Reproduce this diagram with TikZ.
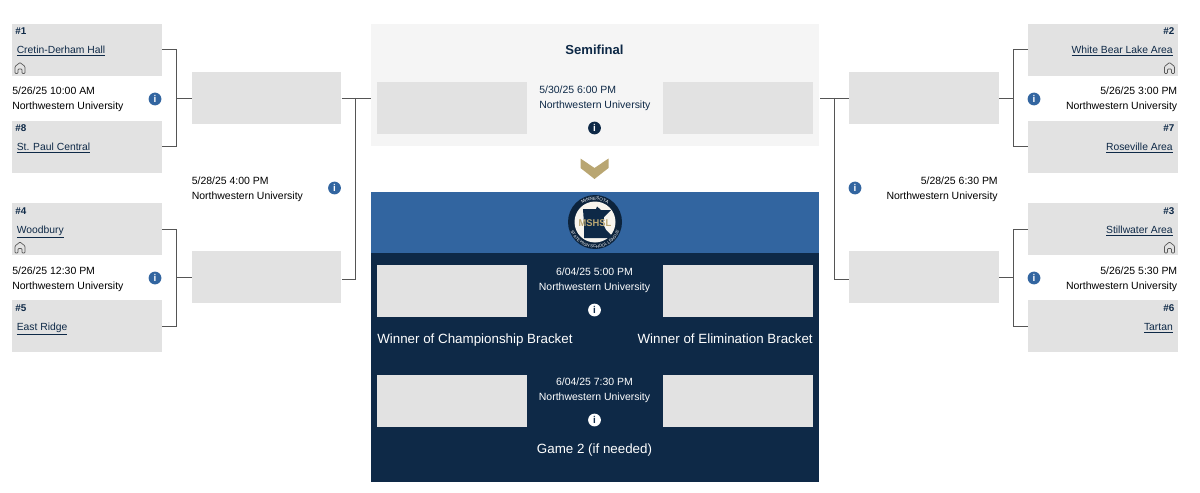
\documentclass[tikz,border=0pt]{standalone}
\usepackage{fontspec}
\setmainfont{Liberation Sans}
\usetikzlibrary{positioning, calc, decorations.text}
\definecolor{boxfill}{RGB}{226,226,226}
\definecolor{panelfill}{RGB}{245,245,245}
\definecolor{navyfill}{RGB}{14,41,71}
\definecolor{leagueblue}{RGB}{50,101,160}
\definecolor{goldfill}{RGB}{185,166,114}
\definecolor{linegray}{RGB}{85,85,85}
\tikzset{
    teambox/.style={
        rectangle, fill=boxfill, inner sep=0pt, anchor=north west,
        minimum width=3.74cm, minimum height=1.3cm
    },
    gamebox/.style={teambox, minimum width=3.74cm},
    seedtext/.style={font=\fontsize{7}{8}\selectfont\bfseries, text=navyfill, inner sep=0pt},
    teamtext/.style={font=\fontsize{7.35}{10}\selectfont, text=navyfill, inner sep=0pt},
    datetext/.style={font=\fontsize{7.45}{10.7}\selectfont, inner sep=0pt},
    titletext/.style={font=\fontsize{9.5}{12}\selectfont, text=white, inner sep=0pt},
    infoicon/.style={
        circle, fill=leagueblue, text=white, inner sep=0pt, minimum size=0.32cm,
        font=\fontsize{7}{7}\selectfont\bfseries
    },
    bracketline/.style={draw=linegray, line width=0.7pt},
    homeicon/.pic={
        \draw[draw=black!65, line width=0.5pt, line join=round, rounded corners=0.6pt]
            (-5,0) -- (-5,-7) -- (0,-11) -- (5,-7) -- (5,0) -- (2,0) -- (2,-4.5)
            -- (-2,-4.5) -- (-2,0) -- cycle;
    }
}
\begin{document}
\begin{tikzpicture}[x=0.025cm, y=-0.025cm]
    \useasboundingbox (0,0) rectangle (1200,492);

    % Panels
    \node[rectangle, fill=panelfill, inner sep=0pt, anchor=north west, minimum width=11.2cm, minimum height=3.03cm] (semipanel) at (371,24) {};
    \node[rectangle, fill=navyfill, inner sep=0pt, anchor=north west, minimum width=11.2cm, minimum height=7.25cm] (finalpanel) at (371,192) {};
    \node[rectangle, fill=leagueblue, inner sep=0pt, anchor=north west, minimum width=11.2cm, minimum height=1.52cm] (sealpanel) at (371,192) {};

    % Left teams
    \foreach \boxname/\x/\y/\seed/\team in {t1/12/23.5/1/Cretin-Derham Hall, t8/12/120.5/8/St. Paul Central, t4/12/203/4/Woodbury, t5/12/300/5/East Ridge} {
        \node[teambox] (\boxname) at (\x,\y) {};
        \node[seedtext, anchor=west] (\boxname seed) at (\x+3,\y+8) {\#\seed};
        \node[teamtext, anchor=base west] (\boxname name) at (\x+4.5,\y+30) {\underline{\team}};
    }

    % Right teams
    \foreach \boxname/\x/\y/\seed/\team in {t2/1028/23.5/2/White Bear Lake Area, t7/1028/120.5/7/Roseville Area, t3/1028/203/3/Stillwater Area, t6/1028/300/6/Tartan} {
        \node[teambox] (\boxname) at (\x,\y) {};
        \node[seedtext, anchor=east] (\boxname seed) at (\x+146.5,\y+8) {\#\seed};
        \node[teamtext, anchor=base east] (\boxname name) at (\x+145,\y+30) {\underline{\team}};
    }

    % Home icons
    \foreach \x/\y in {20/73.5, 20/253, 1169.5/73.5, 1169.5/253} {
        \pic at (\x,\y) {homeicon};
    }

    % Empty game boxes
    \foreach \boxname/\x/\y in {q1/191.5/71.5, q2/191.5/251, q3/849/71.5, q4/849/251, s1/377/82, s2/663/82, f1/377/264.5, f2/663/264.5, g1/377/374.5, g2/663/374.5} {
        \node[gamebox] (\boxname) at (\x,\y) {};
    }

    % Brackets
    \coordinate (jt1) at (176.5,98);
    \coordinate (jt2) at (176.5,277);
    \coordinate (jt3) at (1013,98);
    \coordinate (jt4) at (1013,277);
    \coordinate (jq1) at (355.5,98);
    \coordinate (jq2) at (355.5,279);
    \coordinate (jq3) at (834,98);
    \coordinate (jq4) at (834,279);
    \draw[bracketline] (t1.east) -| (jt1) |- (t8.east);
    \draw[bracketline] (t4.east) -| (jt2) |- (t5.east);
    \draw[bracketline] (t2.west) -| (jt3) |- (t7.west);
    \draw[bracketline] (t3.west) -| (jt4) |- (t6.west);
    \draw[bracketline] (jt1) -- (jt1 -| q1.west);
    \draw[bracketline] (jt2) -- (jt2 -| q2.west);
    \draw[bracketline] (jt3) -- (jt3 -| q3.east);
    \draw[bracketline] (jt4) -- (jt4 -| q4.east);
    \draw[bracketline] (jq1 -| q1.east) -- (jq1 -| semipanel.west);
    \draw[bracketline] (jq3 -| q3.west) -- (jq3 -| semipanel.east);
    \draw[bracketline] (jq1) -- (jq2) -- (jq2 -| q2.east);
    \draw[bracketline] (jq3) -- (jq4) -- (jq4 -| q4.west);

    % Game times
    \node[datetext, anchor=west, align=left] (d1) at (12,99.5) {5/26/25 10:00 AM\\Northwestern University};
    \node[datetext, anchor=west, align=left] (d4) at (12,279) {5/26/25 12:30 PM\\Northwestern University};
    \node[datetext, anchor=west, align=left] (dq1) at (191.5,189.5) {5/28/25 4:00 PM\\Northwestern University};
    \node[datetext, anchor=east, align=right] (d2) at (1177.5,99.5) {5/26/25 3:00 PM\\Northwestern University};
    \node[datetext, anchor=east, align=right] (d3) at (1177.5,279) {5/26/25 5:30 PM\\Northwestern University};
    \node[datetext, anchor=east, align=right] (dq2) at (998,189.5) {5/28/25 6:30 PM\\Northwestern University};
    \node[datetext, text=navyfill, anchor=west, align=left] (ds) at (539,98.5) {5/30/25 6:00 PM\\Northwestern University};
    \node[datetext, text=white, align=center] (df) at (594.5,280.5) {6/04/25 5:00 PM\\Northwestern University};
    \node[datetext, text=white, align=center] (dg) at (594.5,390.5) {6/04/25 7:30 PM\\Northwestern University};

    % Info icons
    \foreach \iconname/\x/\y in {i1/155/99, i2/1034/99, i3/155/278, i4/1034/278, i5/334.5/188, i6/855/188} {
        \node[infoicon] (\iconname) at (\x,\y) {i};
    }
    \node[infoicon, fill=navyfill] (i7) at (594.5,128) {i};
    \node[infoicon, fill=white, text=navyfill] (i8) at (594.5,310) {i};
    \node[infoicon, fill=white, text=navyfill] (i9) at (594.5,420) {i};

    % Titles
    \node[titletext, text=navyfill, font=\fontsize{9.3}{12}\selectfont\bfseries] (semititle) at (594.5,49.5) {Semifinal};
    \node[titletext, anchor=base west] (champtext) at (377,343) {Winner of Championship Bracket};
    \node[titletext, anchor=base east] (elimtext) at (813,343) {Winner of Elimination Bracket};
    \node[titletext, anchor=base] (gametext) at (594.5,453) {Game 2 (if needed)};

    % Chevron
    \fill[goldfill] (580.5,158.5) -- (594.5,168) -- (608.5,158.5) -- (608.5,168) -- (594.5,179) -- (580.5,168) -- cycle;

    % League seal
    \fill[navyfill!85!black] (595,222) circle (27);
    \fill[white!88!goldfill] (595,222) circle (20.5);
    \fill[navyfill] (583,209) -- (596,209) -- (597,206.5) -- (601,210) -- (611,210) -- (604,217) -- (603,224) -- (606,230) -- (611,235) -- (611,238) -- (584,238) -- (584,224) -- cycle;
    \node[inner sep=0pt, text=goldfill, font=\fontsize{7}{7}\selectfont\bfseries, xscale=0.95] (sealtext) at (595,223) {MSHSL};
    \path[decorate, decoration={text along path, text align=center, text={|\fontsize{3.2}{3}\selectfont\color{white}|MINNESOTA}}] (573,222) arc[start angle=180, end angle=360, radius=22];
    \path[decorate, decoration={text along path, text align=center, text={|\fontsize{3}{3}\selectfont\color{white}|STATE HIGH SCHOOL LEAGUE}}] (569,222) arc[start angle=180, end angle=0, radius=26];
\end{tikzpicture}
\end{document}
